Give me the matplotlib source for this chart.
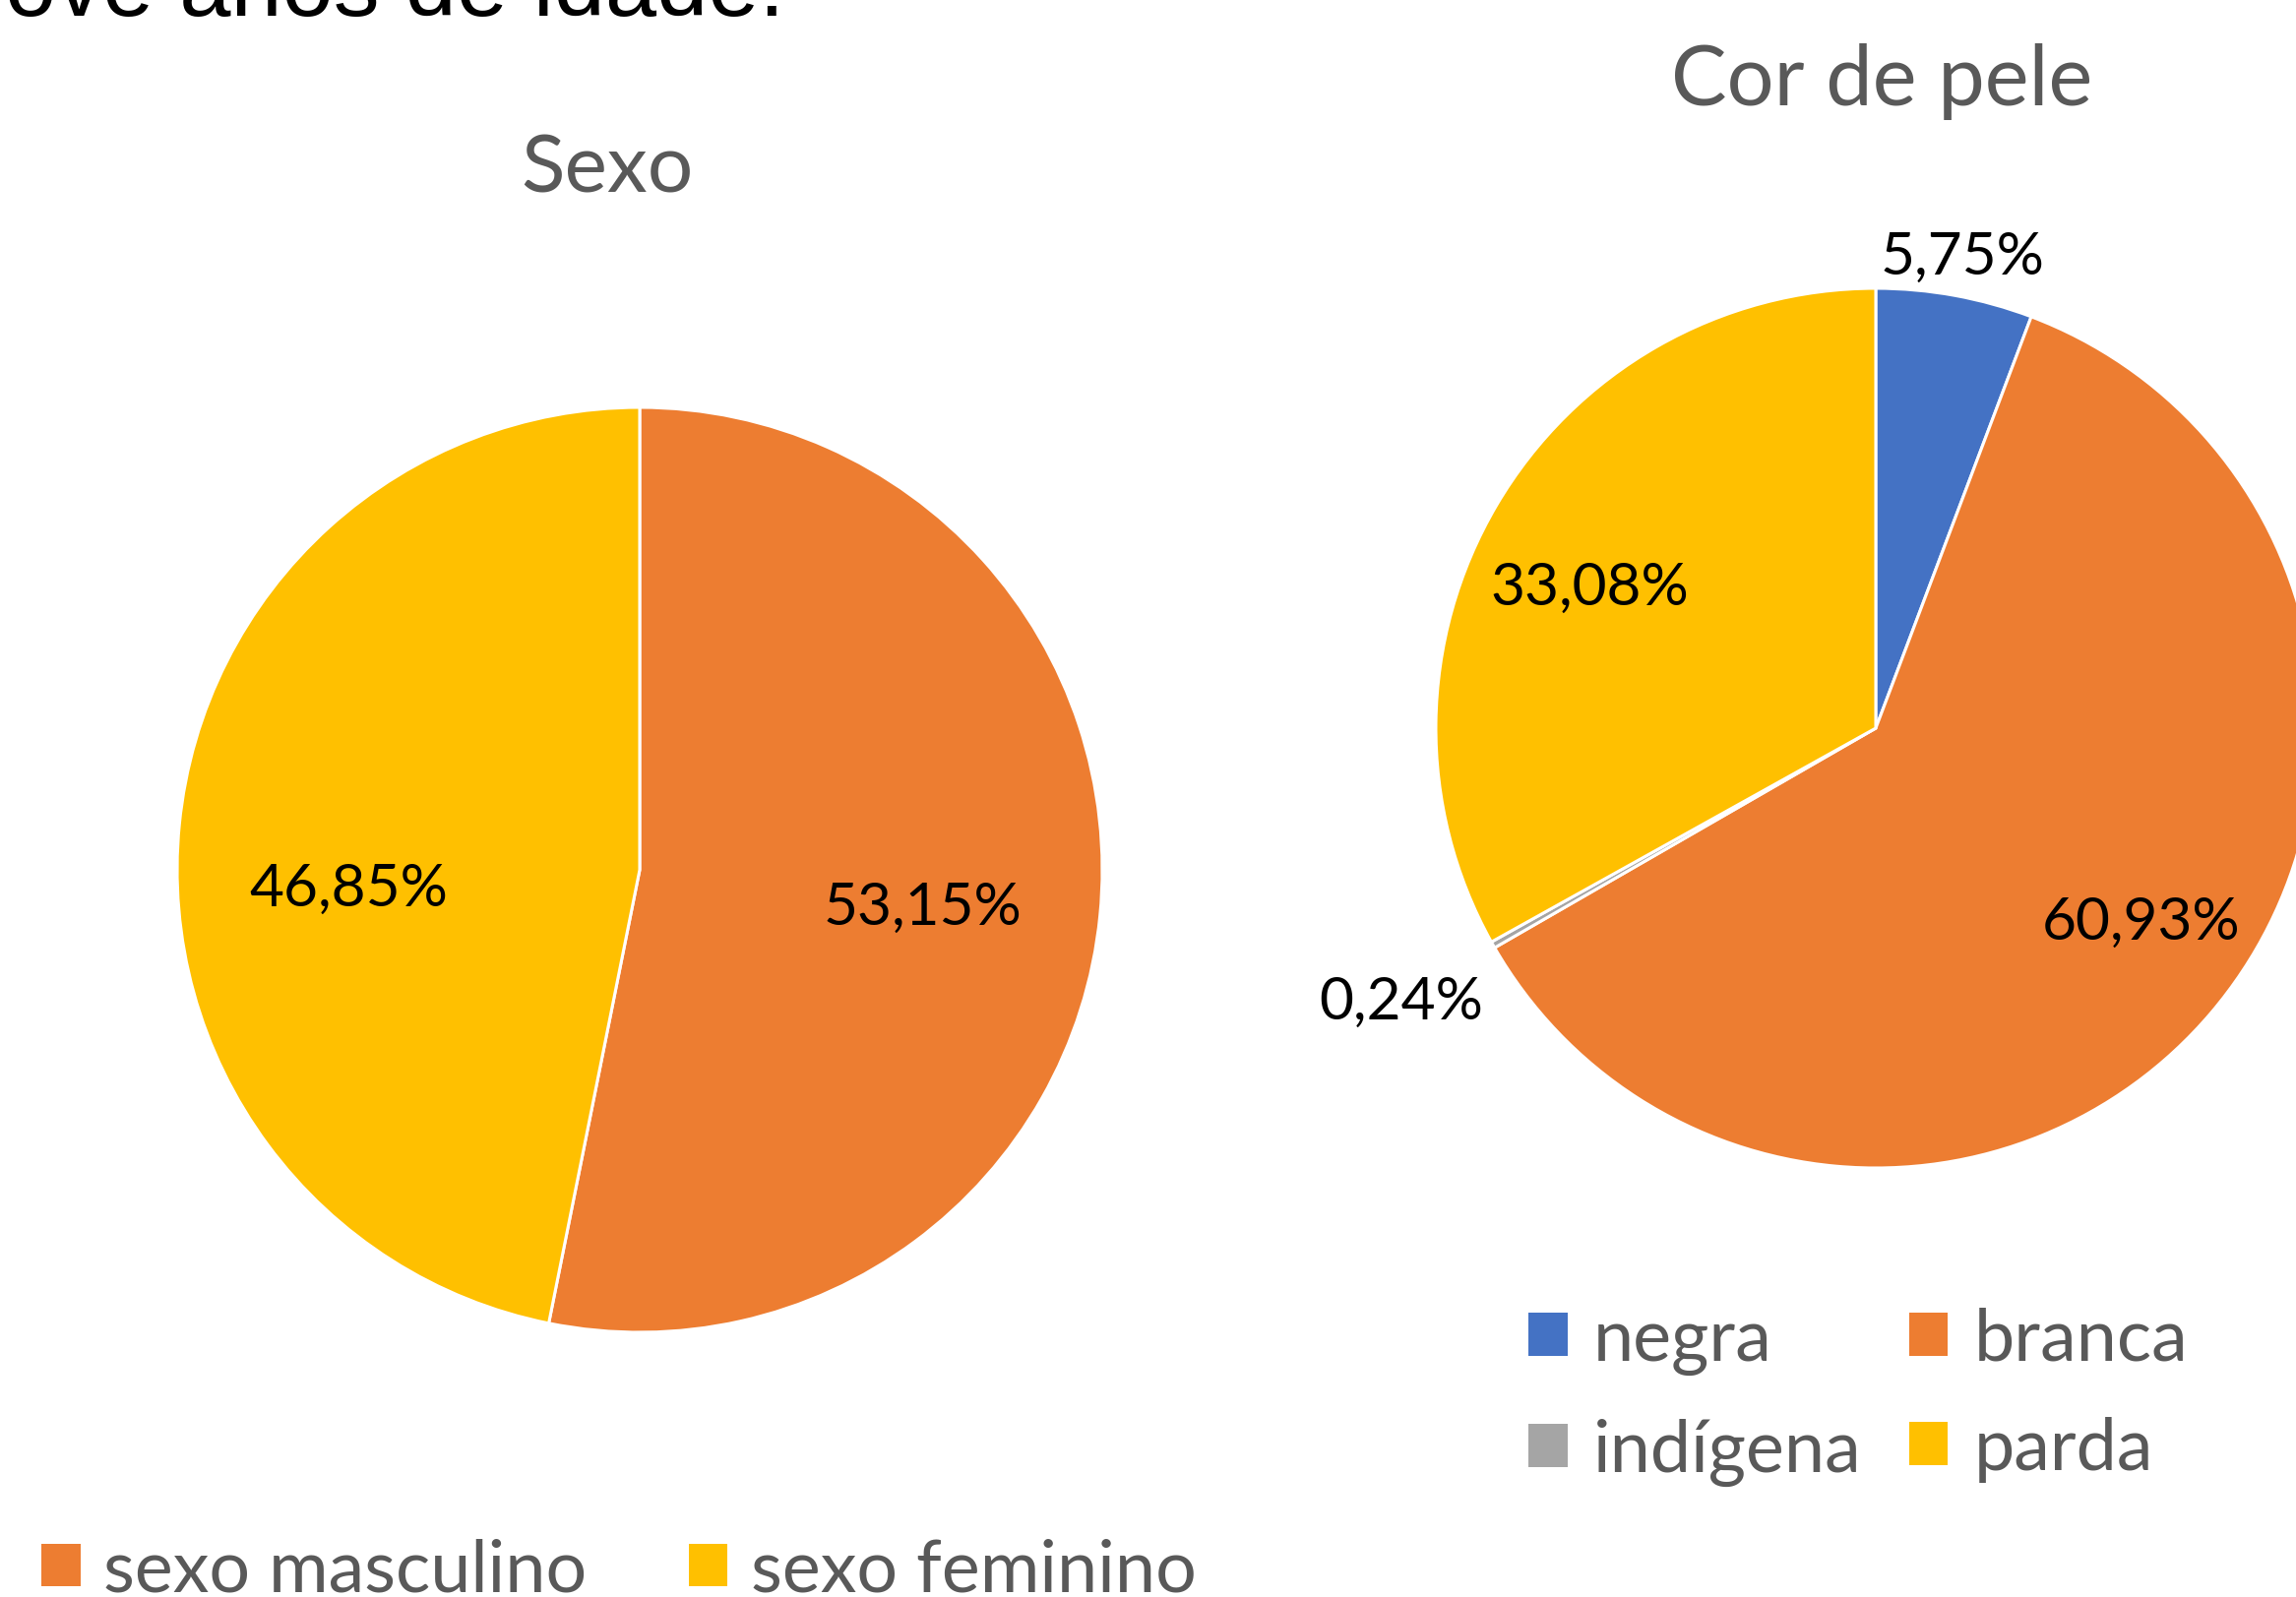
import matplotlib
matplotlib.use("Agg")
import matplotlib.pyplot as plt
from matplotlib.patches import Patch
import numpy as np

W, H = 2333, 1624
DPI = 100

# ---- data ----
heading_text = "nove anos de idade."
title_sexo = "Sexo"
title_cor = "Cor de pele"

sexo_labels = ["sexo masculino", "sexo feminino"]
sexo_values = [53.15, 46.85]
sexo_colors = ["#ED7D31", "#FFC000"]

cor_labels = ["negra", "branca", "indígena", "parda"]
cor_values = [5.75, 60.93, 0.24, 33.08]
cor_colors = ["#4472C4", "#ED7D31", "#A5A5A5", "#FFC000"]

# ---- styling / layout ----
plt.rcParams['font.family'] = ['Lato', 'DejaVu Sans']
GRAY = "#595959"

fig = plt.figure(figsize=(W / DPI, H / DPI), dpi=DPI)
fig.patch.set_facecolor("white")


def fx(x):
    return x / W


def fy(y):
    return 1 - y / H


def pie_axes(cx, cy, r):
    return fig.add_axes([fx(cx - r), fy(cy + r), 2 * r / W, 2 * r / H])


def fmt(v):
    return f"{v:.2f}".replace(".", ",") + "%"


def draw_pie(ax, values, colors, dists, shifts):
    wedges, _ = ax.pie(values, colors=colors, startangle=90, counterclock=False,
                       radius=1, wedgeprops=dict(edgecolor="white", linewidth=2.2))
    for w, v, d, s in zip(wedges, values, dists, shifts):
        mid = np.deg2rad((w.theta1 + w.theta2) / 2 + s)
        ax.text(d * np.cos(mid), d * np.sin(mid), fmt(v), ha="center",
                va="center_baseline", fontsize=43.5, color="black")
    ax.set_xlim(-1, 1)
    ax.set_ylim(-1, 1)
    ax.axis("off")


# heading text (cut off at top-left)
fig.text(fx(-47), fy(16), heading_text, fontsize=67.5, family=["Liberation Sans"],
         color="black", ha="left", va="baseline")

# left pie
ax1 = pie_axes(650, 885, 470)
draw_pie(ax1, sexo_values, sexo_colors, [0.615, 0.63], [-0.9, 8.4])
fig.text(fx(617), fy(196), title_sexo, ha="center", va="baseline", fontsize=59, color=GRAY)

# right pie
ax2 = pie_axes(1906, 741, 447)
draw_pie(ax2, cor_values, cor_colors, [1.10, 0.74, 1.24, 0.73], [0, 4.9, 0, 3.5])
fig.text(fx(1912), fy(107), title_cor, ha="center", va="baseline", fontsize=61, color=GRAY)

# legends
h1 = [Patch(facecolor=c, edgecolor="none", label=l) for c, l in zip(sexo_colors, sexo_labels)]
fig.legend(handles=h1, loc="center left", bbox_to_anchor=(fx(42), fy(1597)), ncol=2,
           frameon=False, fontsize=53, handlelength=0.54, handleheight=0.54,
           handletextpad=0.32, columnspacing=1.4, borderpad=0, borderaxespad=0,
           labelcolor=GRAY)

order = [0, 2, 1, 3]
h2 = [Patch(facecolor=cor_colors[i], edgecolor="none", label=cor_labels[i]) for i in order]
fig.legend(handles=h2, loc="center left", bbox_to_anchor=(fx(1553), fy(1420)), ncol=2,
           frameon=False, fontsize=53, handlelength=0.54, handleheight=0.54,
           handletextpad=0.36, columnspacing=0.65, labelspacing=0.60, borderpad=0,
           borderaxespad=0, labelcolor=GRAY)

fig.savefig("out.png", dpi=DPI, facecolor="white")
